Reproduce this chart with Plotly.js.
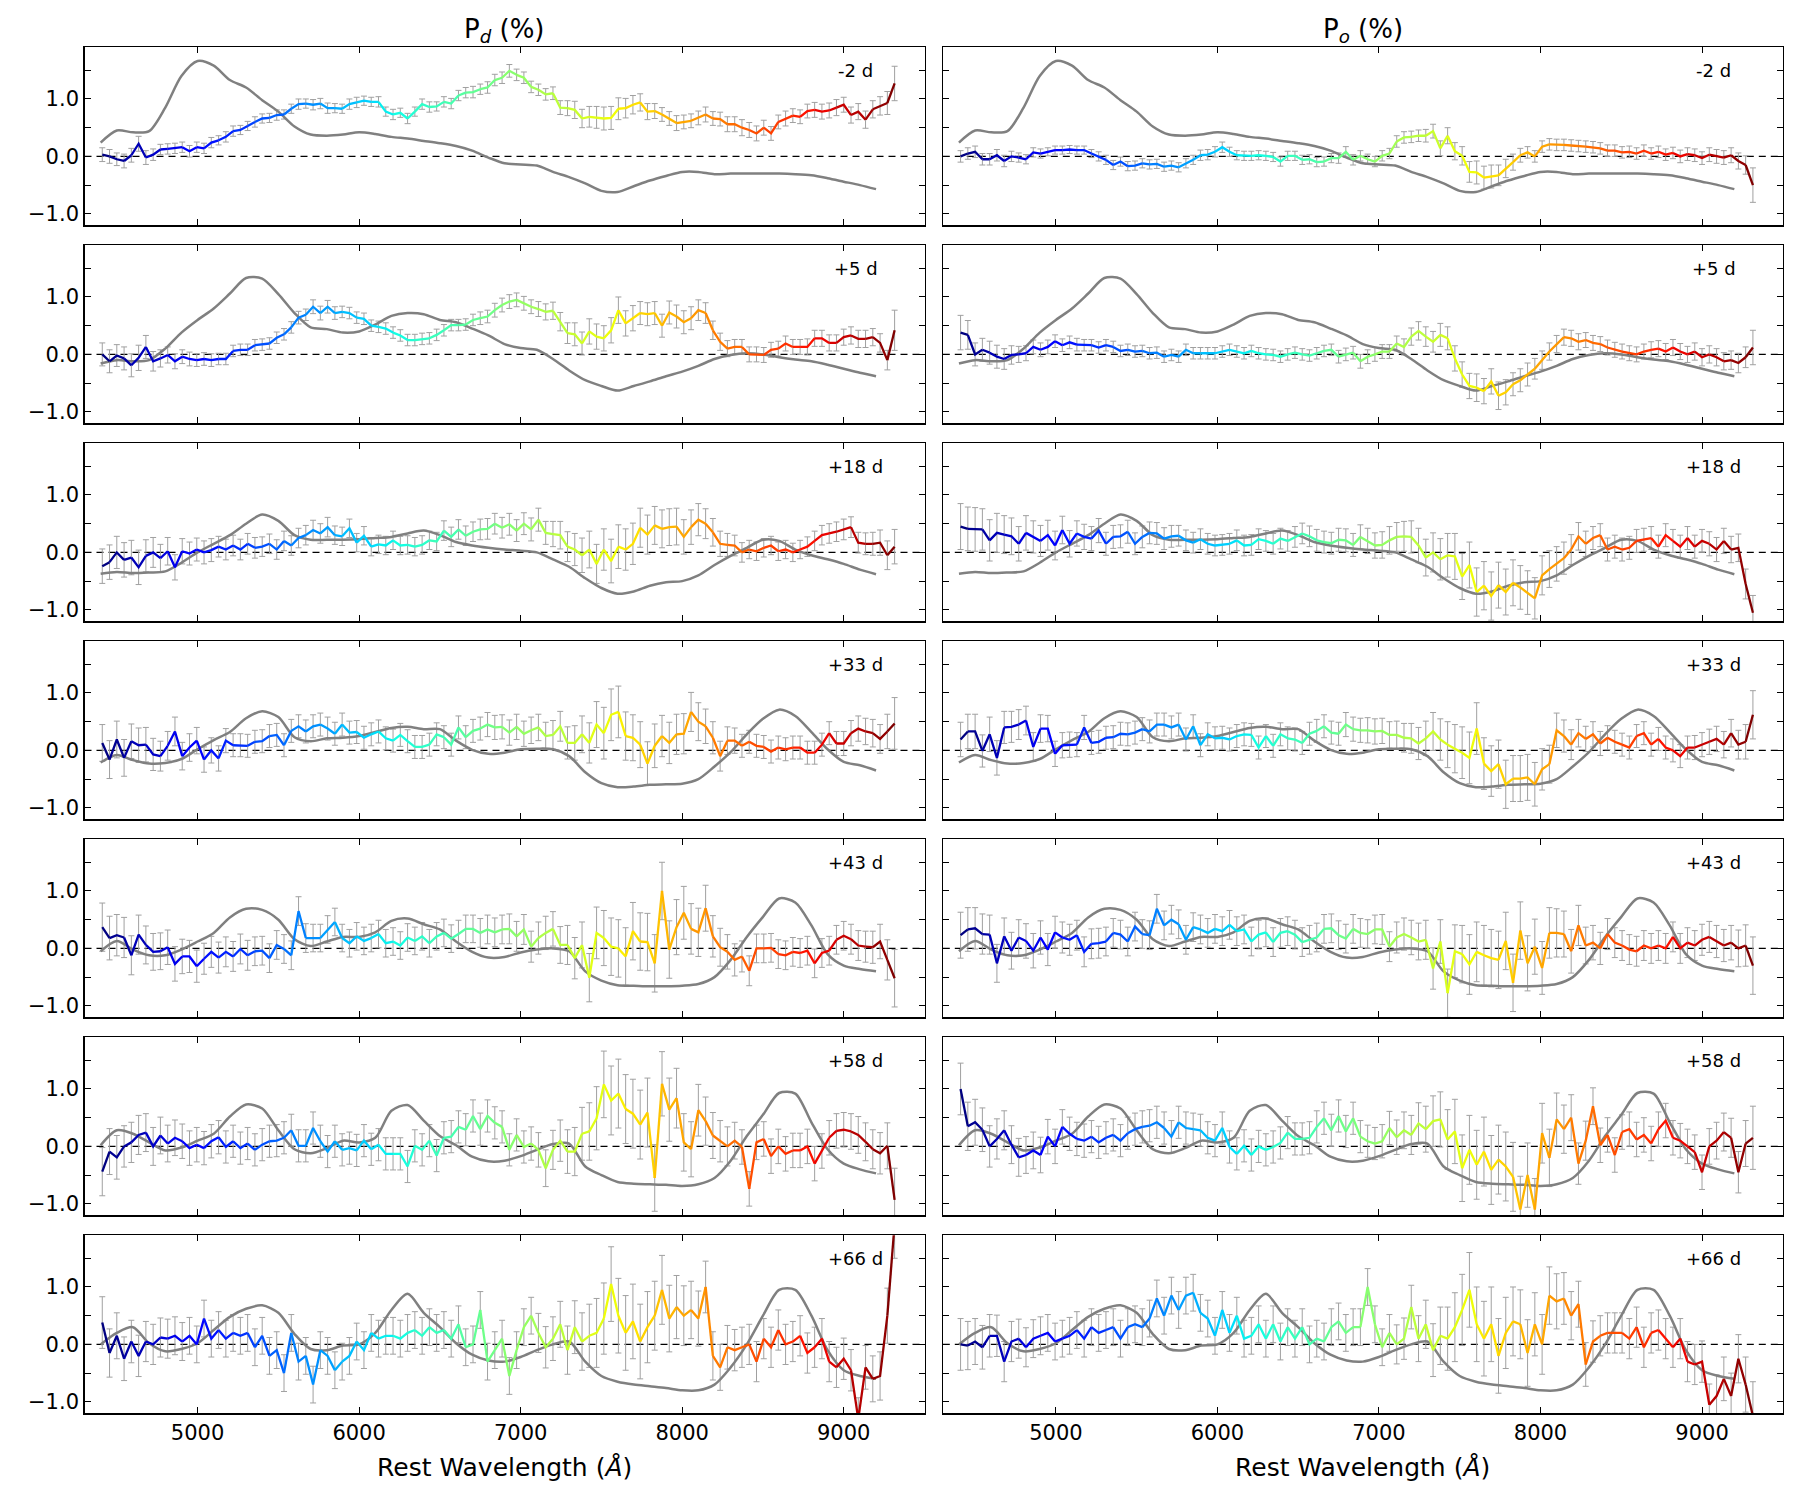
<!DOCTYPE html>
<html><head><meta charset="utf-8">
<script src="https://cdn.plot.ly/plotly-3.0.1.min.js"></script>
<style>html,body{margin:0;padding:0;background:#fff}</style>
</head><body>
<div id="chart" style="width:1800px;height:1500px"></div>
<script>
// ---------------- DATA ----------------
const wavelength = [4410,4455,4500,4545,4590,4635,4680,4725,4770,4815,
4860,4905,4950,4995,5040,5085,5130,5175,5220,5265,
5310,5355,5400,5445,5490,5535,5580,5625,5670,5715,
5760,5805,5850,5895,5940,5985,6030,6075,6120,6165,
6210,6255,6300,6345,6390,6435,6480,6525,6570,6615,
6660,6705,6750,6795,6840,6885,6930,6975,7020,7065,
7110,7155,7200,7245,7290,7335,7380,7425,7470,7515,
7560,7605,7650,7695,7740,7785,7830,7875,7920,7965,
8010,8055,8100,8145,8190,8235,8280,8325,8370,8415,
8460,8505,8550,8595,8640,8685,8730,8775,8820,8865,
8910,8955,9000,9045,9090,9135,9180,9225,9270,9315];

const fluxWavelength = [4400,4500,4600,4700,4800,4900,5000,5100,5200,5300,
5400,5500,5600,5700,5800,5900,6000,6100,6200,6300,
6400,6500,6600,6700,6800,6900,7000,7100,7200,7300,
7400,7500,7600,7700,7800,7900,8000,8100,8200,8300,
8400,8500,8600,8700,8800,8900,9000,9100,9200];

const epochs = ['-2 d','+5 d','+18 d','+33 d','+43 d','+58 d','+66 d'];
const xTicks = [5000,6000,7000,8000,9000];
const yTickVals = [-1,0,1];
const yTickText = ['\u22121.0','0.0','1.0'];
const yMinorTicks = [-0.5,0.5,1.5];

// scaled flux spectra (grey)
const flux_m2 = [0.24,0.45,0.42,0.44,0.85,1.40,1.66,1.58,1.33,1.20,0.98,0.78,0.52,0.38,0.36,0.38,0.42,0.39,0.34,0.31,0.27,0.23,0.18,0.10,-0.02,-0.12,-0.14,-0.16,-0.27,-0.36,-0.47,-0.60,-0.62,-0.52,-0.42,-0.34,-0.27,-0.27,-0.31,-0.30,-0.30,-0.30,-0.30,-0.31,-0.33,-0.38,-0.44,-0.50,-0.57];
const flux_p5 = [-0.16,-0.10,-0.12,-0.10,0.10,0.38,0.60,0.80,1.06,1.33,1.32,1.05,0.72,0.47,0.44,0.38,0.40,0.52,0.67,0.72,0.70,0.60,0.56,0.45,0.33,0.18,0.11,0.08,-0.08,-0.28,-0.45,-0.55,-0.63,-0.55,-0.47,-0.38,-0.30,-0.20,-0.08,-0.01,0.02,0.00,-0.05,-0.09,-0.12,-0.18,-0.25,-0.32,-0.38];
const flux_p18 = [-0.37,-0.34,-0.36,-0.35,-0.33,-0.18,0.00,0.15,0.30,0.50,0.66,0.55,0.30,0.22,0.22,0.22,0.23,0.25,0.27,0.33,0.38,0.30,0.18,0.12,0.08,0.05,0.03,0.00,-0.12,-0.25,-0.45,-0.62,-0.72,-0.68,-0.58,-0.52,-0.50,-0.40,-0.22,-0.06,0.08,0.22,0.20,0.05,-0.05,-0.12,-0.20,-0.30,-0.38];
const flux_p33 = [-0.21,-0.08,-0.17,-0.23,-0.22,-0.15,0.02,0.18,0.32,0.56,0.68,0.58,0.23,0.16,0.21,0.22,0.25,0.32,0.39,0.41,0.37,0.37,0.17,0.01,-0.06,-0.04,0.02,0.03,0.02,-0.10,-0.38,-0.57,-0.64,-0.63,-0.60,-0.59,-0.58,-0.50,-0.28,-0.03,0.28,0.55,0.71,0.60,0.32,0.02,-0.20,-0.26,-0.35];
const flux_p43 = [-0.05,0.13,-0.02,-0.12,-0.12,-0.02,0.12,0.27,0.54,0.69,0.67,0.50,0.16,0.04,0.12,0.20,0.20,0.28,0.48,0.52,0.42,0.33,0.12,-0.06,-0.16,-0.15,-0.07,-0.02,0.00,-0.05,-0.40,-0.56,-0.64,-0.65,-0.66,-0.66,-0.65,-0.62,-0.50,-0.20,0.20,0.55,0.87,0.80,0.40,-0.10,-0.30,-0.36,-0.40];
const flux_p58 = [0.02,0.28,0.22,0.07,-0.07,-0.02,0.10,0.22,0.52,0.73,0.66,0.28,-0.05,-0.12,-0.03,0.10,0.07,0.15,0.62,0.72,0.45,0.18,0.02,-0.18,-0.26,-0.25,-0.17,-0.06,0.04,0.05,-0.35,-0.50,-0.62,-0.65,-0.66,-0.67,-0.69,-0.66,-0.55,-0.25,0.18,0.55,0.93,0.92,0.42,-0.05,-0.30,-0.40,-0.47];
const flux_p66 = [0.00,0.20,0.30,0.02,-0.12,-0.08,0.02,0.25,0.48,0.62,0.68,0.55,0.18,-0.08,-0.10,-0.02,0.00,0.20,0.60,0.88,0.55,0.30,0.02,-0.18,-0.28,-0.30,-0.22,-0.10,0.00,0.05,-0.30,-0.55,-0.65,-0.70,-0.73,-0.76,-0.80,-0.80,-0.70,-0.40,0.00,0.50,0.95,0.95,0.50,-0.10,-0.45,-0.55,-0.60];

// P_d (%)
const Pd_m2 = [0.03,0.00,-0.05,-0.08,0.02,0.22,-0.02,0.03,0.12,0.13,
0.14,0.16,0.09,0.16,0.14,0.24,0.28,0.34,0.44,0.46,
0.53,0.60,0.66,0.67,0.72,0.73,0.83,0.91,0.92,0.90,
0.92,0.84,0.84,0.83,0.91,0.94,0.97,0.95,0.95,0.78,
0.73,0.76,0.66,0.78,0.91,0.86,0.87,0.95,0.92,1.06,
1.11,1.12,1.17,1.20,1.33,1.37,1.49,1.42,1.37,1.21,
1.16,1.08,1.10,0.85,0.84,0.81,0.66,0.69,0.68,0.66,
0.67,0.83,0.84,0.90,0.94,0.78,0.79,0.73,0.66,0.58,
0.60,0.62,0.67,0.73,0.66,0.65,0.56,0.56,0.50,0.46,
0.40,0.50,0.40,0.60,0.66,0.71,0.69,0.79,0.81,0.78,
0.80,0.85,0.90,0.72,0.78,0.64,0.82,0.88,0.93,1.27];
const Pd_p5 = [0.00,-0.12,-0.02,-0.07,-0.19,-0.06,0.13,-0.12,-0.07,-0.01,
-0.12,-0.04,-0.08,-0.10,-0.08,-0.10,-0.08,-0.08,0.06,0.08,
0.08,0.16,0.17,0.19,0.29,0.35,0.47,0.64,0.69,0.83,
0.72,0.83,0.72,0.74,0.72,0.64,0.62,0.50,0.48,0.45,
0.38,0.33,0.25,0.25,0.27,0.28,0.34,0.42,0.51,0.51,
0.52,0.60,0.63,0.66,0.77,0.86,0.92,0.95,0.89,0.83,
0.79,0.74,0.76,0.57,0.37,0.35,0.19,0.40,0.31,0.28,
0.42,0.77,0.54,0.63,0.72,0.70,0.72,0.50,0.73,0.66,
0.56,0.63,0.77,0.72,0.42,0.22,0.10,0.13,0.13,0.00,
0.00,-0.01,0.08,0.10,0.19,0.13,0.13,0.13,0.28,0.28,
0.20,0.20,0.30,0.33,0.27,0.27,0.30,0.20,-0.10,0.42];
const Pd_p18 = [-0.24,-0.17,0.00,-0.13,-0.09,-0.26,-0.06,0.00,-0.10,0.02,
-0.26,0.02,-0.02,0.05,0.00,0.04,0.10,0.05,0.12,0.05,
0.15,0.08,0.10,0.15,0.05,0.20,0.12,0.25,0.30,0.39,
0.33,0.44,0.30,0.28,0.42,0.17,0.29,0.10,0.14,0.12,
0.21,0.12,0.13,0.10,0.13,0.21,0.19,0.38,0.27,0.40,
0.29,0.36,0.40,0.41,0.50,0.43,0.49,0.38,0.50,0.40,
0.57,0.34,0.32,0.30,0.10,0.05,-0.05,0.05,-0.20,0.05,
-0.15,0.10,0.05,0.15,0.43,0.31,0.47,0.41,0.44,0.45,
0.27,0.44,0.57,0.50,0.35,0.15,0.13,0.12,0.00,0.05,
0.02,0.08,0.12,0.02,0.05,0.00,0.05,0.10,0.20,0.30,
0.33,0.36,0.40,0.44,0.17,0.15,0.15,0.17,-0.05,0.10];
const Pd_p33 = [0.13,-0.16,0.19,-0.13,0.16,0.09,0.10,-0.07,-0.10,0.08,
0.33,-0.10,0.05,0.17,-0.16,0.00,-0.14,0.17,0.09,0.09,
0.08,0.15,0.16,0.25,0.27,0.09,0.34,0.42,0.33,0.42,
0.45,0.38,0.29,0.45,0.31,0.32,0.22,0.28,0.33,0.21,
0.17,0.27,0.16,0.06,0.06,0.10,0.28,0.23,0.10,0.40,
0.23,0.34,0.38,0.45,0.40,0.41,0.31,0.41,0.29,0.35,
0.40,0.25,0.27,0.42,0.13,0.13,0.28,0.13,0.45,0.30,
0.62,0.67,0.25,0.22,0.10,-0.23,0.08,0.25,0.13,0.28,
0.29,0.67,0.50,0.42,0.22,-0.10,0.17,0.17,0.08,0.15,
0.08,0.06,-0.02,0.05,0.02,0.05,0.05,-0.04,-0.04,0.10,
0.30,0.12,0.12,0.30,0.38,0.33,0.30,0.20,0.33,0.47];
const Pd_p43 = [0.37,0.18,0.23,0.19,-0.12,0.24,0.06,-0.06,-0.05,0.02,
-0.27,-0.14,-0.14,-0.31,-0.18,-0.06,-0.16,-0.06,-0.14,-0.01,
-0.12,-0.05,-0.04,-0.17,0.06,-0.01,-0.12,0.65,0.18,0.18,
0.18,0.33,0.46,0.18,0.09,0.21,0.13,0.18,0.25,0.09,
0.12,0.05,0.19,0.13,0.21,0.09,0.21,0.27,0.17,0.25,
0.34,0.34,0.27,0.33,0.28,0.33,0.34,0.21,0.33,0.03,
0.18,0.27,0.34,0.06,0.06,-0.17,0.06,-0.51,0.27,0.18,
0.03,0.00,-0.14,0.30,0.12,0.11,-0.26,1.00,-0.02,0.37,
0.62,0.34,0.28,0.70,0.21,0.02,-0.06,-0.20,-0.14,-0.39,
0.00,0.00,0.01,-0.10,-0.12,-0.06,-0.08,-0.04,-0.26,-0.08,
-0.04,0.15,0.22,0.16,0.05,0.03,0.02,0.12,-0.20,-0.52];
const Pd_p58 = [-0.44,-0.09,-0.19,0.00,0.07,0.20,0.24,0.00,0.19,0.05,
0.15,0.09,-0.03,0.03,-0.03,0.09,0.16,-0.01,0.09,-0.03,
0.05,-0.06,0.03,0.09,0.10,0.15,0.28,0.01,0.01,0.32,
0.09,-0.09,0.09,-0.06,-0.03,-0.07,0.10,-0.05,0.03,-0.13,
-0.13,-0.13,-0.35,0.01,-0.06,0.10,-0.16,0.15,0.17,0.34,
0.29,0.53,0.30,0.53,0.41,0.34,-0.06,0.20,-0.01,0.05,
-0.06,-0.38,-0.06,0.10,-0.09,-0.09,0.22,0.26,0.49,1.08,
0.80,0.92,0.65,0.57,0.38,0.59,-0.55,1.09,0.64,0.84,
0.07,-0.05,0.63,0.44,0.19,0.09,0.00,0.10,-0.01,-0.74,
0.07,0.13,-0.17,0.00,-0.13,-0.07,-0.07,0.00,-0.30,-0.08,
0.15,0.27,0.29,0.26,0.20,0.08,-0.05,-0.12,0.01,-0.93];
const Pd_p66 = [0.38,-0.15,0.15,-0.25,0.05,-0.20,0.05,0.00,0.12,0.10,
0.15,0.05,0.15,0.00,0.45,0.10,0.25,0.10,0.20,0.15,
0.20,-0.05,0.15,-0.20,-0.10,-0.50,0.20,-0.30,-0.20,-0.70,
-0.10,-0.20,-0.45,-0.30,-0.20,0.05,-0.10,0.20,0.10,0.15,
0.15,0.10,0.20,0.25,0.15,0.30,0.20,0.25,0.10,0.35,
-0.05,0.00,0.60,-0.30,-0.10,0.10,-0.55,-0.10,0.30,0.50,
0.20,-0.05,0.10,0.35,-0.10,0.30,0.05,0.15,0.20,0.45,
1.05,0.50,0.20,0.40,0.05,0.30,0.50,0.95,0.45,0.65,
0.50,0.60,0.45,1.00,-0.20,-0.40,-0.05,-0.10,-0.05,0.00,
-0.30,0.10,-0.05,0.25,0.00,0.05,0.15,-0.15,-0.05,0.10,
-0.30,-0.40,-0.25,-0.45,-1.30,-0.40,-0.60,-0.55,0.50,2.10];

// P_o (%)
const Po_m2 = [0.00,0.05,0.08,-0.05,-0.05,0.02,-0.08,0.00,-0.02,-0.05,
0.07,0.05,0.08,0.11,0.11,0.12,0.11,0.11,0.05,0.00,
-0.06,-0.15,-0.09,-0.17,-0.16,-0.12,-0.14,-0.13,-0.18,-0.16,
-0.19,-0.12,-0.06,0.02,0.03,0.08,0.16,0.08,0.02,0.01,
0.01,0.02,0.01,-0.01,-0.09,0.01,0.01,-0.06,-0.05,-0.10,
-0.09,-0.03,-0.03,0.08,-0.06,0.01,-0.05,-0.09,0.01,0.05,
0.26,0.33,0.34,0.36,0.36,0.44,0.14,0.36,0.09,0.01,
-0.27,-0.28,-0.37,-0.35,-0.33,-0.21,-0.10,0.02,0.07,0.00,
0.17,0.21,0.20,0.20,0.19,0.18,0.17,0.16,0.14,0.10,
0.10,0.07,0.08,0.05,0.10,0.05,0.08,0.03,0.06,0.00,
0.04,0.02,-0.03,0.03,0.00,-0.02,0.02,-0.08,-0.15,-0.50];
const Po_p5 = [0.38,0.34,0.00,0.08,0.03,-0.04,-0.08,-0.01,0.00,0.02,
0.13,0.08,0.13,0.23,0.16,0.21,0.17,0.16,0.16,0.12,
0.16,0.13,0.06,0.08,0.05,0.06,0.02,0.03,-0.04,-0.01,
-0.04,0.08,0.02,0.02,0.02,0.02,0.05,0.08,0.05,0.02,
0.06,0.02,0.00,-0.01,-0.04,0.00,0.03,0.00,-0.02,0.02,
0.06,0.08,-0.04,0.00,0.03,-0.12,-0.04,0.00,0.05,0.05,
0.19,0.13,0.31,0.41,0.31,0.22,0.34,0.28,-0.07,-0.35,
-0.55,-0.58,-0.64,-0.47,-0.72,-0.66,-0.52,-0.45,-0.35,-0.25,
-0.10,0.05,0.18,0.30,0.28,0.22,0.25,0.20,0.18,0.12,
0.08,0.05,0.02,0.00,0.05,0.08,0.10,0.05,0.12,0.05,
0.00,0.05,-0.05,0.00,-0.05,-0.12,-0.10,-0.15,-0.05,0.12];
const Po_p18 = [0.45,0.41,0.40,0.40,0.21,0.34,0.31,0.28,0.15,0.34,
0.27,0.20,0.30,0.12,0.39,0.15,0.33,0.27,0.24,0.38,
0.15,0.27,0.28,0.36,0.15,0.27,0.34,0.33,0.24,0.28,
0.29,0.21,0.17,0.23,0.15,0.12,0.13,0.15,0.21,0.12,
0.13,0.23,0.20,0.15,0.24,0.20,0.27,0.33,0.28,0.21,
0.18,0.16,0.22,0.21,0.13,0.27,0.20,0.12,0.13,0.21,
0.27,0.28,0.27,0.12,-0.09,0.00,-0.12,-0.05,-0.07,-0.42,
-0.22,-0.69,-0.58,-0.76,-0.57,-0.69,-0.53,-0.61,-0.70,-0.80,
-0.40,-0.29,-0.20,-0.10,0.05,0.28,0.15,0.25,0.30,0.05,
0.10,0.05,0.08,0.20,0.22,0.25,0.10,0.30,0.20,0.10,
0.25,0.10,0.20,0.15,0.05,0.20,0.05,0.08,-0.55,-1.05];
const Po_p33 = [0.19,0.33,0.33,-0.01,0.28,-0.13,0.40,0.41,0.45,0.52,
0.06,0.38,0.38,-0.06,0.09,0.10,0.10,0.40,0.13,0.15,
0.22,0.23,0.29,0.28,0.31,0.37,0.33,0.45,0.45,0.40,
0.45,0.19,0.42,0.09,0.28,0.21,0.22,0.19,0.25,0.28,
0.27,0.05,0.25,0.08,0.28,0.21,0.19,0.13,0.29,0.34,
0.42,0.31,0.29,0.45,0.37,0.35,0.35,0.33,0.34,0.27,
0.27,0.22,0.21,0.12,0.21,0.33,0.19,0.10,0.03,-0.04,
-0.13,0.38,-0.23,-0.36,-0.24,-0.59,-0.49,-0.49,-0.47,-0.59,
-0.33,-0.24,0.35,0.25,0.10,0.30,0.20,0.28,0.12,0.22,
0.15,0.10,0.05,0.25,0.30,0.10,0.20,0.05,0.00,-0.10,
0.05,0.05,0.10,0.15,0.20,0.10,0.30,0.10,0.15,0.62];
const Po_p43 = [0.23,0.33,0.35,0.25,0.24,-0.26,0.21,-0.04,0.19,0.13,
-0.04,0.19,-0.02,0.28,0.19,0.15,0.23,-0.06,0.08,0.09,
0.12,0.27,0.24,0.12,0.38,0.25,0.23,0.69,0.40,0.50,
0.42,0.15,0.37,0.33,0.27,0.34,0.30,0.41,0.30,0.33,
0.12,0.24,0.28,0.11,0.27,0.30,0.24,0.11,0.15,0.19,
0.34,0.35,0.23,0.17,0.34,0.27,0.25,0.33,0.33,0.03,
0.19,0.25,0.19,0.12,0.15,-0.35,0.12,-0.78,-0.05,-0.10,
-0.28,-0.06,-0.12,-0.17,-0.20,0.13,-0.60,0.31,-0.26,0.03,
-0.34,0.27,0.27,0.25,-0.05,0.40,0.05,0.10,0.00,0.25,
0.10,0.05,-0.02,-0.05,0.05,0.00,0.05,0.00,0.20,0.00,
0.10,0.05,0.15,0.20,0.12,0.05,0.10,0.00,0.05,-0.30];
const Po_p58 = [1.00,0.35,0.42,0.29,0.00,0.13,0.28,0.03,-0.19,-0.15,
-0.07,-0.15,0.17,0.00,0.34,0.22,0.13,0.10,0.17,0.07,
0.15,0.20,0.10,0.23,0.30,0.34,0.36,0.42,0.32,0.17,
0.42,0.32,0.30,0.28,0.15,0.10,0.32,-0.01,-0.13,0.01,
-0.15,0.00,-0.06,-0.01,0.06,0.24,0.13,0.13,0.15,0.34,
0.49,0.28,0.53,0.26,0.49,0.17,0.09,0.05,0.09,0.32,
0.16,0.28,0.20,0.40,0.30,0.44,0.47,0.12,0.26,-0.38,
-0.06,-0.32,-0.09,-0.41,-0.23,-0.35,-0.53,-1.10,-0.50,-1.10,
0.23,-0.20,0.47,0.30,0.50,-0.30,0.10,0.70,0.02,0.20,
-0.15,0.25,0.30,0.12,0.20,0.05,0.30,0.45,0.15,0.10,
0.00,-0.10,-0.45,0.00,0.10,0.25,0.15,-0.45,0.05,0.15];
const Po_p66 = [0.00,-0.02,0.05,-0.05,0.15,0.15,-0.30,0.05,0.10,-0.05,
0.10,0.15,0.20,0.05,0.10,0.15,0.25,0.10,0.30,0.20,
0.25,0.30,0.10,0.30,0.35,0.30,0.45,0.80,0.50,0.85,
0.60,0.85,0.90,0.55,0.45,0.15,0.60,0.20,0.50,0.10,
0.15,0.35,0.10,0.35,0.05,0.30,0.10,0.30,0.00,0.10,
0.05,0.30,0.40,0.20,0.30,0.30,1.00,0.35,-0.05,0.20,
0.00,0.10,0.65,0.10,0.35,-0.10,0.15,0.10,0.30,0.60,
0.95,0.35,0.10,0.35,-0.20,0.20,0.40,0.35,-0.15,0.35,
0.00,0.85,0.75,0.80,0.50,0.70,-0.35,0.05,0.15,0.20,
0.20,0.20,0.10,0.30,-0.05,0.20,0.25,0.10,-0.05,0.10,
-0.30,-0.35,-0.30,-1.05,-0.90,-0.60,-0.90,-0.25,-0.70,-1.25];

// 1-sigma errors (%)
const ePd_m2 = [.12,.12,.11,.12,.12,.13,.12,.10,.09,.09,.09,.09,.10,.09,.09,.09,.08,.09,.09,.08,.08,.09,.08,.08,.09,.08,.08,.09,.08,.09,.09,.09,.08,.08,.09,.09,.08,.08,.09,.08,.09,.08,.09,.08,.09,.09,.08,.09,.09,.09,.09,.10,.09,.10,.10,.10,.11,.10,.10,.10,.10,.10,.11,.12,.13,.15,.16,.18,.19,.20,.20,.19,.17,.16,.15,.14,.13,.12,.12,.13,.12,.12,.12,.13,.12,.12,.13,.13,.14,.13,.13,.13,.12,.12,.13,.12,.12,.12,.13,.13,.13,.14,.13,.14,.14,.15,.15,.16,.20,.30];
const ePo_m2 = [.10,.10,.10,.10,.10,.10,.10,.09,.08,.08,.08,.08,.07,.07,.07,.07,.07,.07,.07,.08,.08,.08,.08,.08,.08,.08,.08,.08,.08,.08,.08,.08,.08,.09,.09,.09,.09,.08,.08,.08,.08,.08,.08,.08,.08,.08,.08,.08,.08,.08,.08,.08,.09,.09,.09,.09,.09,.09,.09,.09,.10,.10,.10,.10,.11,.12,.13,.14,.15,.16,.18,.20,.20,.20,.18,.16,.14,.12,.10,.10,.10,.10,.10,.10,.10,.10,.10,.10,.10,.10,.10,.10,.10,.10,.10,.10,.10,.10,.10,.11,.11,.11,.11,.12,.12,.12,.13,.14,.16,.30];
const ePd_p5 = [.20,.20,.19,.20,.20,.22,.20,.17,.15,.14,.13,.12,.12,.11,.11,.11,.10,.10,.10,.10,.10,.10,.10,.10,.10,.10,.10,.11,.10,.12,.12,.11,.11,.10,.10,.10,.10,.10,.10,.10,.10,.10,.10,.10,.10,.10,.10,.10,.10,.10,.10,.10,.11,.11,.12,.12,.12,.12,.12,.12,.13,.14,.15,.16,.18,.20,.20,.22,.22,.22,.22,.23,.22,.22,.20,.20,.20,.20,.20,.20,.20,.20,.18,.18,.16,.15,.14,.13,.13,.13,.13,.13,.13,.13,.13,.13,.13,.14,.14,.14,.14,.14,.14,.15,.15,.15,.15,.16,.17,.35];
const ePo_p5 = [.30,.25,.20,.20,.20,.20,.18,.16,.14,.13,.12,.12,.12,.11,.11,.11,.11,.10,.10,.10,.10,.10,.10,.10,.10,.10,.10,.10,.10,.10,.10,.10,.10,.10,.10,.10,.10,.10,.10,.10,.10,.10,.10,.10,.10,.10,.10,.10,.10,.10,.10,.10,.11,.11,.11,.12,.12,.12,.12,.12,.13,.14,.15,.16,.17,.18,.20,.20,.22,.22,.22,.24,.22,.22,.24,.22,.20,.20,.20,.18,.16,.15,.15,.14,.14,.14,.13,.13,.13,.13,.13,.13,.13,.13,.13,.14,.14,.14,.14,.14,.14,.15,.15,.15,.15,.15,.16,.17,.18,.30];
const ePd_p18 = [.30,.30,.28,.30,.30,.30,.28,.26,.24,.24,.22,.22,.20,.20,.20,.20,.18,.18,.18,.18,.18,.18,.17,.17,.17,.17,.17,.17,.17,.17,.17,.17,.16,.16,.16,.16,.16,.16,.16,.16,.16,.16,.16,.16,.16,.16,.16,.17,.17,.17,.17,.17,.18,.18,.18,.18,.19,.19,.19,.20,.20,.20,.22,.24,.26,.28,.30,.32,.34,.36,.38,.38,.36,.36,.34,.34,.33,.33,.32,.32,.30,.30,.28,.26,.24,.22,.20,.18,.17,.16,.16,.16,.16,.16,.16,.16,.16,.17,.17,.17,.17,.17,.18,.18,.18,.19,.20,.22,.25,.30];
const ePo_p18 = [.40,.38,.38,.36,.36,.34,.33,.32,.30,.30,.28,.27,.26,.25,.24,.23,.22,.22,.21,.21,.20,.20,.20,.20,.19,.19,.19,.19,.19,.19,.18,.18,.18,.18,.18,.18,.18,.18,.18,.18,.18,.18,.18,.18,.18,.18,.18,.18,.18,.19,.19,.19,.20,.20,.20,.21,.22,.22,.23,.24,.25,.26,.28,.30,.32,.34,.36,.38,.40,.40,.40,.42,.42,.42,.40,.40,.40,.38,.38,.36,.34,.32,.30,.28,.26,.24,.22,.20,.20,.20,.20,.20,.20,.20,.20,.20,.20,.20,.20,.20,.20,.20,.20,.21,.21,.22,.23,.24,.26,.30];
const ePd_p33 = [.32,.33,.32,.32,.30,.30,.30,.28,.26,.25,.25,.24,.24,.23,.22,.22,.22,.21,.20,.20,.20,.20,.20,.20,.20,.20,.20,.20,.20,.20,.20,.20,.20,.20,.20,.20,.20,.20,.20,.20,.20,.20,.20,.20,.20,.20,.20,.20,.20,.20,.20,.20,.20,.21,.21,.21,.22,.22,.22,.23,.23,.24,.25,.26,.28,.30,.32,.35,.40,.45,.45,.45,.42,.40,.40,.38,.38,.36,.36,.35,.35,.34,.33,.30,.28,.26,.24,.22,.20,.20,.20,.20,.20,.20,.20,.20,.20,.20,.20,.20,.20,.21,.21,.22,.22,.23,.24,.25,.30,.45];
const ePo_p33 = [.30,.30,.30,.28,.30,.30,.28,.27,.26,.25,.25,.24,.23,.22,.22,.22,.21,.21,.20,.20,.20,.20,.20,.20,.20,.20,.20,.20,.20,.20,.20,.20,.20,.20,.20,.20,.20,.20,.20,.20,.20,.20,.20,.20,.20,.20,.20,.20,.20,.20,.20,.20,.20,.21,.21,.21,.22,.22,.22,.23,.24,.25,.26,.28,.30,.33,.36,.40,.42,.45,.45,.45,.45,.44,.42,.42,.40,.40,.40,.38,.36,.33,.30,.28,.26,.24,.22,.22,.21,.21,.20,.20,.20,.20,.20,.20,.20,.20,.20,.20,.20,.21,.21,.22,.22,.23,.24,.25,.30,.42];
const ePd_p43 = [.42,.38,.36,.35,.34,.34,.33,.32,.32,.30,.30,.30,.28,.28,.27,.27,.27,.26,.26,.26,.26,.25,.25,.25,.25,.25,.25,.25,.25,.24,.24,.24,.24,.24,.24,.24,.24,.24,.24,.24,.24,.24,.24,.24,.24,.24,.24,.24,.24,.24,.24,.24,.25,.25,.25,.25,.26,.26,.26,.27,.28,.29,.30,.32,.34,.36,.40,.42,.45,.48,.50,.50,.50,.50,.50,.50,.50,.50,.50,.48,.46,.44,.42,.40,.36,.33,.30,.28,.27,.26,.25,.25,.25,.25,.25,.25,.25,.25,.25,.25,.25,.25,.25,.26,.26,.27,.28,.30,.35,.50];
const ePo_p43 = [.40,.38,.36,.35,.34,.33,.32,.32,.31,.30,.30,.29,.28,.28,.27,.27,.26,.26,.26,.26,.25,.25,.25,.25,.25,.25,.25,.25,.25,.25,.25,.25,.25,.25,.25,.25,.25,.25,.25,.25,.25,.25,.25,.25,.25,.25,.25,.25,.25,.25,.25,.25,.25,.25,.25,.25,.25,.25,.26,.26,.27,.28,.30,.32,.34,.36,.38,.42,.46,.50,.52,.52,.52,.50,.50,.50,.50,.50,.48,.48,.46,.44,.42,.40,.38,.35,.32,.30,.28,.27,.26,.26,.26,.26,.26,.26,.26,.26,.26,.26,.26,.26,.27,.27,.28,.28,.30,.32,.36,.50];
const ePd_p58 = [.42,.40,.38,.36,.35,.34,.33,.33,.32,.32,.31,.30,.30,.30,.29,.29,.29,.28,.28,.28,.28,.28,.28,.28,.28,.28,.28,.28,.28,.28,.28,.28,.28,.28,.28,.28,.28,.28,.28,.28,.28,.28,.28,.28,.28,.28,.28,.28,.28,.28,.28,.28,.28,.28,.28,.28,.28,.28,.28,.29,.30,.32,.34,.36,.38,.42,.46,.50,.55,.58,.60,.60,.60,.60,.60,.60,.58,.56,.55,.52,.50,.48,.45,.42,.40,.36,.34,.32,.30,.30,.30,.30,.30,.30,.30,.30,.30,.30,.30,.30,.30,.30,.30,.31,.32,.33,.34,.36,.40,.55];
const ePo_p58 = [.45,.42,.40,.38,.36,.35,.34,.33,.33,.32,.32,.31,.30,.30,.30,.29,.29,.29,.28,.28,.28,.28,.28,.28,.28,.28,.28,.28,.28,.28,.28,.28,.28,.28,.28,.28,.28,.28,.28,.28,.28,.28,.28,.28,.28,.28,.28,.28,.28,.28,.28,.28,.28,.28,.28,.28,.28,.28,.29,.29,.30,.32,.34,.36,.40,.44,.48,.52,.56,.58,.60,.60,.60,.60,.60,.60,.60,.58,.56,.54,.52,.50,.46,.42,.40,.36,.34,.32,.30,.30,.30,.30,.30,.30,.30,.30,.30,.30,.30,.30,.30,.30,.30,.31,.32,.33,.34,.36,.40,.55];
const ePd_p66 = [.45,.42,.40,.38,.37,.36,.35,.35,.34,.34,.33,.33,.32,.32,.32,.32,.32,.32,.32,.32,.32,.32,.32,.32,.32,.32,.32,.32,.32,.32,.32,.32,.32,.32,.32,.32,.32,.32,.32,.32,.32,.32,.32,.32,.32,.32,.32,.32,.32,.32,.32,.32,.32,.32,.32,.32,.32,.32,.32,.32,.34,.36,.38,.40,.42,.46,.50,.55,.60,.62,.65,.65,.65,.65,.65,.62,.60,.60,.58,.55,.52,.50,.48,.45,.42,.40,.38,.36,.35,.35,.35,.35,.35,.35,.35,.35,.35,.35,.35,.35,.35,.35,.36,.36,.37,.38,.40,.42,.48,.60];
const ePo_p66 = [.45,.42,.40,.38,.37,.36,.35,.35,.34,.34,.33,.33,.32,.32,.32,.32,.32,.32,.32,.32,.32,.32,.32,.32,.32,.32,.32,.32,.32,.32,.32,.32,.32,.32,.32,.32,.32,.32,.32,.32,.32,.32,.32,.32,.32,.32,.32,.32,.32,.32,.32,.32,.32,.32,.32,.32,.32,.32,.32,.32,.34,.36,.38,.40,.42,.46,.50,.55,.60,.62,.65,.65,.65,.65,.65,.62,.60,.60,.58,.55,.52,.50,.48,.45,.42,.40,.38,.36,.35,.35,.35,.35,.35,.35,.35,.35,.35,.35,.35,.35,.35,.35,.36,.36,.37,.38,.40,.42,.48,.60];

// ---------------- BUILD ----------------
const fluxes = [flux_m2,flux_p5,flux_p18,flux_p33,flux_p43,flux_p58,flux_p66];
const PdAll = [Pd_m2,Pd_p5,Pd_p18,Pd_p33,Pd_p43,Pd_p58,Pd_p66];
const PoAll = [Po_m2,Po_p5,Po_p18,Po_p33,Po_p43,Po_p58,Po_p66];
const ePdAll = [ePd_m2,ePd_p5,ePd_p18,ePd_p33,ePd_p43,ePd_p58,ePd_p66];
const ePoAll = [ePo_m2,ePo_p5,ePo_p18,ePo_p33,ePo_p43,ePo_p58,ePo_p66];

function jet(t){
  t=Math.max(0,Math.min(1,t));
  function f(p){for(let i=0;i<p.length-1;i++){if(t<=p[i+1][0]){return p[i][1]+(p[i+1][1]-p[i][1])*(t-p[i][0])/(p[i+1][0]-p[i][0]);}}return p[p.length-1][1];}
  const r=f([[0,0],[0.35,0],[0.66,1],[0.89,1],[1,0.5]]);
  const g=f([[0,0],[0.125,0],[0.375,1],[0.64,1],[0.91,0],[1,0]]);
  const b=f([[0,0.5],[0.11,1],[0.34,1],[0.65,0],[1,0]]);
  return 'rgb('+Math.round(r*255)+','+Math.round(g*255)+','+Math.round(b*255)+')';
}

const W=1800,H=1500;
const colLeft=[84.5,942.8], colW=840;
const rowTop0=47.3, rowPitch=198, rowH=178;
const FONT='DejaVu Sans, Liberation Sans, sans-serif';

const traces=[], shapes=[], annotations=[];
const layout={width:W,height:H,margin:{l:0,r:0,t:0,b:0},paper_bgcolor:'#fff',plot_bgcolor:'#fff',showlegend:false,font:{family:FONT,color:'#000'}};

const lo=wavelength[0], hi=wavelength[wavelength.length-1];
for(let r=0;r<7;r++){
  for(let c=0;c<2;c++){
    const p=r*2+c, s=p?String(p+1):'';
    const xa='x'+s, ya='y'+s;
    const vals=c?PoAll[r]:PdAll[r], errs=c?ePoAll[r]:ePdAll[r];
    const top=rowTop0+r*rowPitch;
    layout['xaxis'+s]={domain:[colLeft[c]/W,(colLeft[c]+colW)/W],range:[4300,9500],anchor:ya,
      showline:true,linecolor:'#000',linewidth:1.3,mirror:'allticks',ticks:'inside',ticklen:6,tickwidth:1,tickcolor:'#000',
      tickvals:xTicks,ticktext:xTicks.map(String),showticklabels:r===6,showgrid:false,zeroline:false,
      tickfont:{family:FONT,size:21,color:'#000'},fixedrange:true};
    layout['yaxis'+s]={domain:[1-(top+rowH)/H,1-top/H],range:[-1.2,1.9],anchor:xa,
      showline:true,linecolor:'#000',linewidth:1.3,mirror:'allticks',ticks:'inside',ticklen:6,tickwidth:1,tickcolor:'#000',
      tickvals:yTickVals,ticktext:yTickText,showticklabels:c===0,showgrid:false,zeroline:false,
      minor:{tickvals:yMinorTicks,ticks:'inside',ticklen:6,tickwidth:1,tickcolor:'#000',showgrid:false},
      tickfont:{family:FONT,size:21,color:'#000'},fixedrange:true};
    traces.push({type:'scatter',x:wavelength,y:vals,xaxis:xa,yaxis:ya,mode:'markers',marker:{size:2,opacity:0},
      error_y:{type:'data',array:errs,visible:true,color:'#a0a0a0',thickness:1,width:3},hoverinfo:'skip'});
    traces.push({type:'scatter',x:fluxWavelength,y:fluxes[r],xaxis:xa,yaxis:ya,mode:'lines',
      line:{color:'#808080',width:2.5,shape:'spline',smoothing:0.8},hoverinfo:'skip'});
    const L=64, segCol=[];
    for(let i=0;i<vals.length-1;i++){
      const t=((wavelength[i]+wavelength[i+1])/2-lo)/(hi-lo);
      segCol.push(jet(Math.round(t*L)/L));
    }
    let i=0;
    while(i<segCol.length){
      let j=i; while(j+1<segCol.length && segCol[j+1]===segCol[i]) j++;
      traces.push({type:'scatter',x:wavelength.slice(i,j+2),y:vals.slice(i,j+2),xaxis:xa,yaxis:ya,mode:'lines',
        line:{color:segCol[i],width:2.3},hoverinfo:'skip'});
      i=j+1;
    }
    shapes.push({type:'line',xref:xa+' domain',yref:ya,x0:0,x1:1,y0:0,y1:0,layer:'below',line:{color:'#000',width:1.4,dash:'7px,5px'}});
    annotations.push({xref:xa+' domain',yref:ya,x:0.918,y:1.5,text:epochs[r],showarrow:false,xanchor:'center',yanchor:'middle',font:{family:FONT,size:18,color:'#000'}});
  }
}
annotations.push({xref:'paper',yref:'paper',x:(colLeft[0]+colW/2)/W,y:1-30/H,text:'P<sub><i>d</i></sub> (%)',showarrow:false,xanchor:'center',yanchor:'middle',font:{family:FONT,size:26,color:'#000'}});
annotations.push({xref:'paper',yref:'paper',x:(colLeft[1]+colW/2)/W,y:1-30/H,text:'P<sub><i>o</i></sub> (%)',showarrow:false,xanchor:'center',yanchor:'middle',font:{family:FONT,size:26,color:'#000'}});
for(let c=0;c<2;c++){
  annotations.push({xref:'paper',yref:'paper',x:(colLeft[c]+colW/2)/W,y:1-1467/H,text:'Rest Wavelength (<i>\u00c5</i>)',showarrow:false,xanchor:'center',yanchor:'middle',font:{family:FONT,size:25,color:'#000'}});
}
layout.shapes=shapes; layout.annotations=annotations;
Plotly.newPlot('chart',traces,layout,{staticPlot:true,displayModeBar:false});
</script>
</body></html>
